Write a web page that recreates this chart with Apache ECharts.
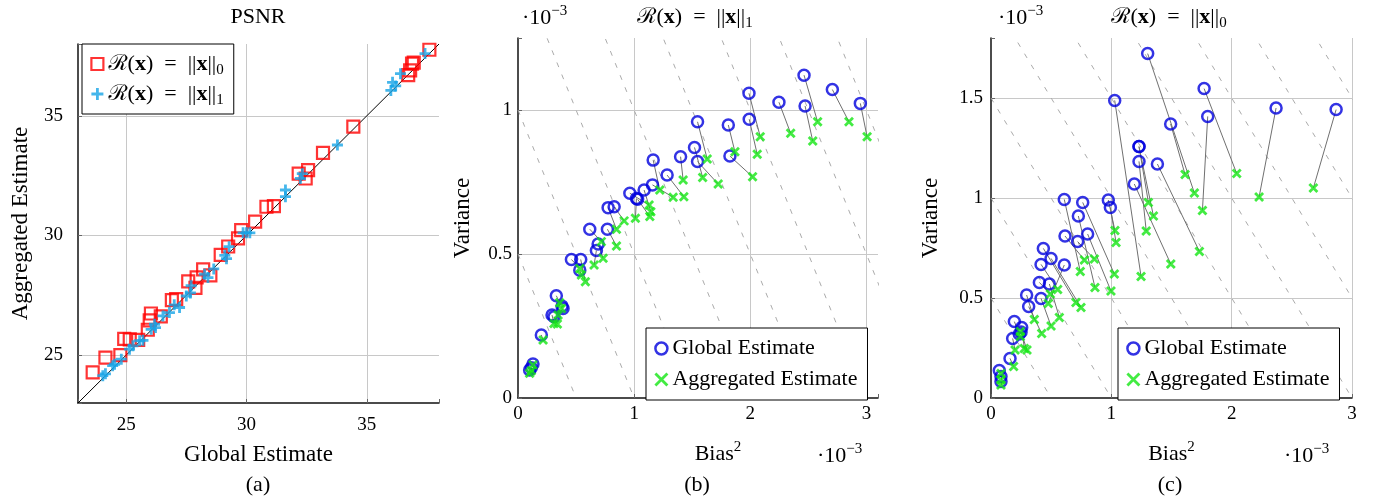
<!DOCTYPE html>
<html>
<head>
<meta charset="utf-8">
<script src="https://cdn.jsdelivr.net/npm/echarts@6/dist/echarts.min.js"></script>
<style>
  html, body { margin: 0; padding: 0; background: #fff; }
  #chart { width: 1376px; height: 500px; }
</style>
</head>
<body>
<div id="chart"></div>
<script>
// (a) PSNR: [global estimate, aggregated estimate]
var psnrL0 = [[23.61,24.28],[24.14,24.90],[24.76,25.00],[24.92,25.68],[25.15,25.66],[25.50,25.64],[25.90,26.06],[25.98,26.45],[26.03,26.74],[26.44,26.62],[26.90,27.30],[27.08,27.34],[27.58,28.08],[27.88,27.81],[27.93,28.25],[28.20,28.58],[28.50,28.33],[28.93,29.19],[29.24,29.54],[29.65,29.88],[29.78,30.22],[30.36,30.58],[30.83,31.20],[31.14,31.23],[32.17,32.58],[32.46,32.38],[32.56,32.73],[33.18,33.45],[34.44,34.55],[36.72,36.70],[36.80,36.90],[36.88,37.18],[36.95,37.22],[37.60,37.76]];
var psnrL1 = [[24.03,24.14],[24.14,24.22],[24.44,24.56],[24.52,24.62],[24.80,24.83],[25.14,25.25],[25.28,25.39],[25.56,25.60],[25.70,25.62],[26.04,26.08],[26.18,26.29],[26.22,26.15],[26.53,26.64],[26.80,26.78],[27.00,27.10],[27.22,26.99],[27.50,27.47],[27.67,27.60],[27.70,27.90],[28.26,28.38],[28.40,28.24],[28.64,28.60],[29.10,29.17],[29.17,29.03],[29.28,29.53],[29.86,30.11],[30.00,30.11],[30.14,30.11],[31.62,31.90],[31.62,31.62],[32.24,32.38],[32.32,32.58],[33.78,33.78],[36.00,36.06],[36.07,36.40],[36.20,36.25],[36.40,36.76],[37.42,37.60]];

// (b) R(x)=||x||_1 : [bias^2, variance] (x 1e-3), same order in both arrays
var l1Global = [[2.463,1.121],[2.707,1.071],[2.948,1.023],[1.989,1.058],[2.247,1.027],[2.472,1.014],[1.991,0.968],[1.546,0.959],[1.811,0.948],[1.825,0.840],[1.520,0.870],[1.546,0.821],[1.400,0.838],[1.164,0.826],[1.284,0.774],[1.158,0.740],[1.086,0.722],[0.963,0.711],[1.020,0.693],[1.030,0.690],[0.776,0.661],[0.828,0.664],[0.618,0.586],[0.770,0.586],[0.690,0.535],[0.675,0.512],[0.460,0.481],[0.540,0.481],[0.532,0.444],[0.330,0.355],[0.379,0.319],[0.293,0.288],[0.310,0.282],[0.388,0.311],[0.201,0.219],[0.129,0.118],[0.100,0.097],[0.115,0.105]];
var l1Aggregated = [[2.580,0.959],[2.850,0.959],[3.006,0.907],[2.086,0.907],[2.348,0.919],[2.538,0.892],[2.060,0.846],[1.629,0.830],[1.868,0.855],[2.020,0.768],[1.590,0.766],[1.724,0.743],[1.422,0.757],[1.221,0.722],[1.428,0.699],[1.336,0.697],[1.144,0.647],[1.129,0.670],[1.011,0.624],[1.135,0.630],[0.848,0.586],[0.914,0.615],[0.718,0.543],[0.848,0.528],[0.733,0.485],[0.655,0.462],[0.532,0.450],[0.580,0.404],[0.546,0.427],[0.359,0.331],[0.374,0.311],[0.310,0.259],[0.339,0.257],[0.345,0.288],[0.216,0.201],[0.129,0.115],[0.100,0.086],[0.115,0.095]];

// (c) R(x)=||x||_0
var l0Global = [[1.302,1.722],[1.493,1.370],[1.771,1.547],[1.801,1.408],[2.369,1.450],[2.868,1.442],[1.028,1.488],[1.230,1.257],[1.230,1.183],[1.230,1.257],[1.383,1.170],[1.191,1.070],[0.609,0.993],[0.762,0.978],[0.726,0.910],[0.975,0.990],[0.992,0.953],[0.615,0.810],[0.803,0.820],[0.720,0.782],[0.435,0.748],[0.499,0.698],[0.416,0.668],[0.609,0.665],[0.402,0.578],[0.485,0.570],[0.296,0.515],[0.416,0.498],[0.313,0.457],[0.194,0.382],[0.255,0.353],[0.235,0.320],[0.180,0.298],[0.158,0.198],[0.069,0.137],[0.083,0.107],[0.083,0.082],[0.250,0.330]];
var l0Aggregated = [[1.690,1.025],[1.613,1.117],[2.042,1.122],[1.757,0.938],[2.228,1.005],[2.679,1.050],[1.247,0.608],[1.308,0.978],[1.290,0.835],[1.350,0.910],[1.732,0.733],[1.494,0.670],[0.742,0.632],[1.025,0.620],[0.864,0.553],[1.030,0.837],[1.039,0.778],[0.776,0.690],[0.997,0.535],[0.859,0.695],[0.706,0.477],[0.748,0.453],[0.554,0.543],[0.476,0.473],[0.493,0.520],[0.568,0.403],[0.360,0.393],[0.499,0.360],[0.421,0.323],[0.244,0.307],[0.277,0.248],[0.244,0.332],[0.200,0.240],[0.188,0.157],[0.083,0.123],[0.083,0.090],[0.083,0.065],[0.299,0.240]];

// dashed iso-MSE lines: bias^2 + variance = level
var isoLevels = [0.5, 1, 1.5, 2, 2.5, 3, 3.5, 4, 4.5];

var FONT = '"Liberation Serif", "DejaVu Serif", "Noto Sans", serif';
var BLUE = '#0000dd', GREEN = '#14e614', RED = '#ff0000', CYAN = '#16a4e6';
var GRID_C = '#c8c8c8', NONE = 'rgba(0,0,0,0)';
var CROSS = 'path://M0,0L10,10M10,0L0,10';
var PLUS = 'path://M5,0L5,10M0,5L10,5';

var rich = {
    n: { fontFamily: FONT, fontSize: 22, color: '#000', fontWeight: 'normal', lineHeight: 28 },
    b: { fontFamily: FONT, fontSize: 22, color: '#000', fontWeight: 'bold', lineHeight: 28 },
    s: { fontFamily: FONT, fontSize: 15, color: '#000', fontWeight: 'normal', verticalAlign: 'bottom', lineHeight: 14 },
    sup: { fontFamily: FONT, fontSize: 15, color: '#000', fontWeight: 'normal', verticalAlign: 'top', lineHeight: 14 }
};
function normText(sub) {
    return '{n|ℛ(}{b|x}{n|)\u2002=\u2002||}{b|x}{n|||}{s|' + sub + '}';
}
function isMultiple(v, step) {
    return Math.abs(v / step - Math.round(v / step)) < 1e-6;
}

function valueAxis(grid, min, max, opt) {
    var ax = {
        type: 'value', gridIndex: grid, min: min, max: max,
        axisLine: { show: true, onZero: false, lineStyle: { color: '#111', width: 1.5 } },
        axisTick: { show: true, inside: true, length: 4, lineStyle: { color: '#666' } },
        axisLabel: { fontFamily: FONT, fontSize: 19, color: '#000', margin: opt.margin,
            formatter: function(v) { return isMultiple(v, opt.step) ? String(+v.toFixed(2)) : ''; } },
        splitLine: { show: true, lineStyle: { color: opt.splitColors, width: 1 } },
        name: opt.name, nameLocation: 'middle', nameGap: opt.nameGap,
        nameTextStyle: { fontFamily: FONT, fontSize: 23, color: '#000', rich: rich,
            padding: opt.namePadding || 0 }
    };
    if (opt.interval) ax.interval = opt.interval;
    if (opt.splitNumber) ax.splitNumber = opt.splitNumber;
    return ax;
}

function isoSeries(axisIdx) {
    return isoLevels.map(function(c) {
        return {
            type: 'line', xAxisIndex: axisIdx, yAxisIndex: axisIdx, clip: true, silent: true,
            showSymbol: false, symbol: 'none', z: 1,
            lineStyle: { color: '#a0a0a0', width: 0.9, type: [5, 8] },
            data: [[0, c], [c, 0]]
        };
    });
}
function linkSeries(axisIdx, from, to) {
    return {
        type: 'lines', coordinateSystem: 'cartesian2d', xAxisIndex: axisIdx, yAxisIndex: axisIdx,
        silent: true, z: 2,
        lineStyle: { color: '#707070', width: 1, opacity: 1, curveness: 0 },
        data: from.map(function(p, i) { return { coords: [p, to[i]] }; })
    };
}
function globalSeries(axisIdx, data) {
    return {
        name: 'Global Estimate', type: 'scatter', xAxisIndex: axisIdx, yAxisIndex: axisIdx, z: 3,
        symbol: 'circle', symbolSize: 11,
        itemStyle: { color: NONE, borderColor: BLUE, borderWidth: 2.5 },
        data: data
    };
}
function aggSeries(axisIdx, data) {
    return {
        name: 'Aggregated Estimate', type: 'scatter', xAxisIndex: axisIdx, yAxisIndex: axisIdx, z: 4,
        symbol: CROSS, symbolSize: 8,
        itemStyle: { color: NONE, borderColor: GREEN, borderWidth: 2.8 },
        data: data
    };
}

var chart = echarts.init(document.getElementById('chart'));
var series = [];
series.push({
    type: 'line', xAxisIndex: 0, yAxisIndex: 0, showSymbol: false, symbol: 'none', silent: true, z: 1,
    lineStyle: { color: '#000', width: 1 }, data: [[23, 23], [38, 38]]
});
series.push({
    name: 'psnr0', type: 'scatter', xAxisIndex: 0, yAxisIndex: 0, z: 3,
    symbol: 'rect', symbolSize: 12,
    itemStyle: { color: NONE, borderColor: RED, borderWidth: 2.2 }, data: psnrL0
});
series.push({
    name: 'psnr1', type: 'scatter', xAxisIndex: 0, yAxisIndex: 0, z: 4,
    symbol: PLUS, symbolSize: 11,
    itemStyle: { color: NONE, borderColor: CYAN, borderWidth: 2.8 }, data: psnrL1
});
series = series.concat(isoSeries(1));
series.push(linkSeries(1, l1Global, l1Aggregated));
series.push(globalSeries(1, l1Global));
series.push(aggSeries(1, l1Aggregated));
series = series.concat(isoSeries(2));
series.push(linkSeries(2, l0Global, l0Aggregated));
series.push(globalSeries(2, l0Global));
series.push(aggSeries(2, l0Aggregated));

var legendBase = {
    orient: 'vertical', backgroundColor: '#fff', borderColor: '#000', borderWidth: 1,
    itemWidth: 12, itemHeight: 12, itemGap: 2, padding: [6, 10, 6, 8],
    selectedMode: false,
    textStyle: { fontFamily: FONT, fontSize: 22, color: '#000', lineHeight: 29, rich: rich }
};
function legendAt(left, top, extra) {
    return Object.assign({}, legendBase, { left: left, top: top }, extra);
}
var estLegendData = [
    { name: 'Global Estimate', icon: 'circle', itemStyle: { color: NONE, borderColor: BLUE, borderWidth: 2.5 } },
    { name: 'Aggregated Estimate', icon: CROSS, itemStyle: { color: NONE, borderColor: GREEN, borderWidth: 2.8 } }
];
var plainTitle = { fontFamily: FONT, fontSize: 22, fontWeight: 'normal', color: '#000' };

var option = {
    animation: false,
    backgroundColor: '#fff',
    title: [
        { text: 'PSNR', left: 258, top: 6, textAlign: 'center', padding: 0, textStyle: plainTitle },
        { text: normText('1'), left: 695, top: 3, textAlign: 'center', padding: 0,
          textStyle: { fontWeight: 'normal', rich: rich } },
        { text: normText('0'), left: 1169, top: 3, textAlign: 'center', padding: 0,
          textStyle: { fontWeight: 'normal', rich: rich } },
        { text: '{n|·10}{sup|−3}', left: 522, top: 4, padding: 0, textStyle: { fontWeight: 'normal', rich: rich } },
        { text: '{n|·10}{sup|−3}', left: 998, top: 4, padding: 0, textStyle: { fontWeight: 'normal', rich: rich } },
        { text: '{n|·10}{sup|−3}', left: 817, top: 442, padding: 0, textStyle: { fontWeight: 'normal', rich: rich } },
        { text: '{n|·10}{sup|−3}', left: 1284, top: 442, padding: 0, textStyle: { fontWeight: 'normal', rich: rich } },
        { text: '(a)', left: 258, top: 474, textAlign: 'center', padding: 0, textStyle: plainTitle },
        { text: '(b)', left: 697, top: 474, textAlign: 'center', padding: 0, textStyle: plainTitle },
        { text: '(c)', left: 1170, top: 474, textAlign: 'center', padding: 0, textStyle: plainTitle }
    ],
    legend: [
        legendAt(82, 44, {
            data: [
                { name: 'psnr0', icon: 'rect', itemStyle: { color: NONE, borderColor: RED, borderWidth: 2.2 } },
                { name: 'psnr1', icon: PLUS, itemStyle: { color: NONE, borderColor: CYAN, borderWidth: 2.8 } }
            ],
            formatter: function(name) { return normText(name === 'psnr0' ? '0' : '1'); }
        }),
        legendAt(646, 328, { data: estLegendData }),
        legendAt(1118, 328, { data: estLegendData })
    ],
    grid: [
        { left: 78, top: 44, width: 361, height: 359 },
        { left: 518, top: 38, width: 360, height: 360 },
        { left: 991, top: 38, width: 361, height: 360 }
    ],
    xAxis: [
        valueAxis(0, 23, 38, { splitNumber: 3, step: 5, margin: 13, name: 'Global Estimate', nameGap: 40,
            splitColors: [NONE, GRID_C, GRID_C, GRID_C, NONE] }),
        valueAxis(1, 0, 3.1, { interval: 1, step: 1, margin: 7, name: '{n|Bias}{sup|2}', nameGap: 42,
            namePadding: [0, 0, 0, 40], splitColors: [NONE, GRID_C, GRID_C, GRID_C, NONE] }),
        valueAxis(2, 0, 3, { interval: 1, step: 1, margin: 7, name: '{n|Bias}{sup|2}', nameGap: 42,
            splitColors: [NONE, GRID_C, GRID_C, GRID_C] })
    ],
    yAxis: [
        valueAxis(0, 23, 38, { splitNumber: 3, step: 5, margin: 15, name: 'Aggregated Estimate', nameGap: 46,
            splitColors: [NONE, GRID_C, GRID_C, GRID_C, NONE] }),
        valueAxis(1, 0, 1.25, { interval: 0.5, step: 0.5, margin: 6, name: 'Variance', nameGap: 44,
            splitColors: [NONE, GRID_C, GRID_C, NONE] }),
        valueAxis(2, 0, 1.8, { interval: 0.5, step: 0.5, margin: 8, name: 'Variance', nameGap: 49,
            splitColors: [NONE, GRID_C, GRID_C, GRID_C, NONE] })
    ],
    series: series
};
chart.setOption(option);
</script>
</body>
</html>
